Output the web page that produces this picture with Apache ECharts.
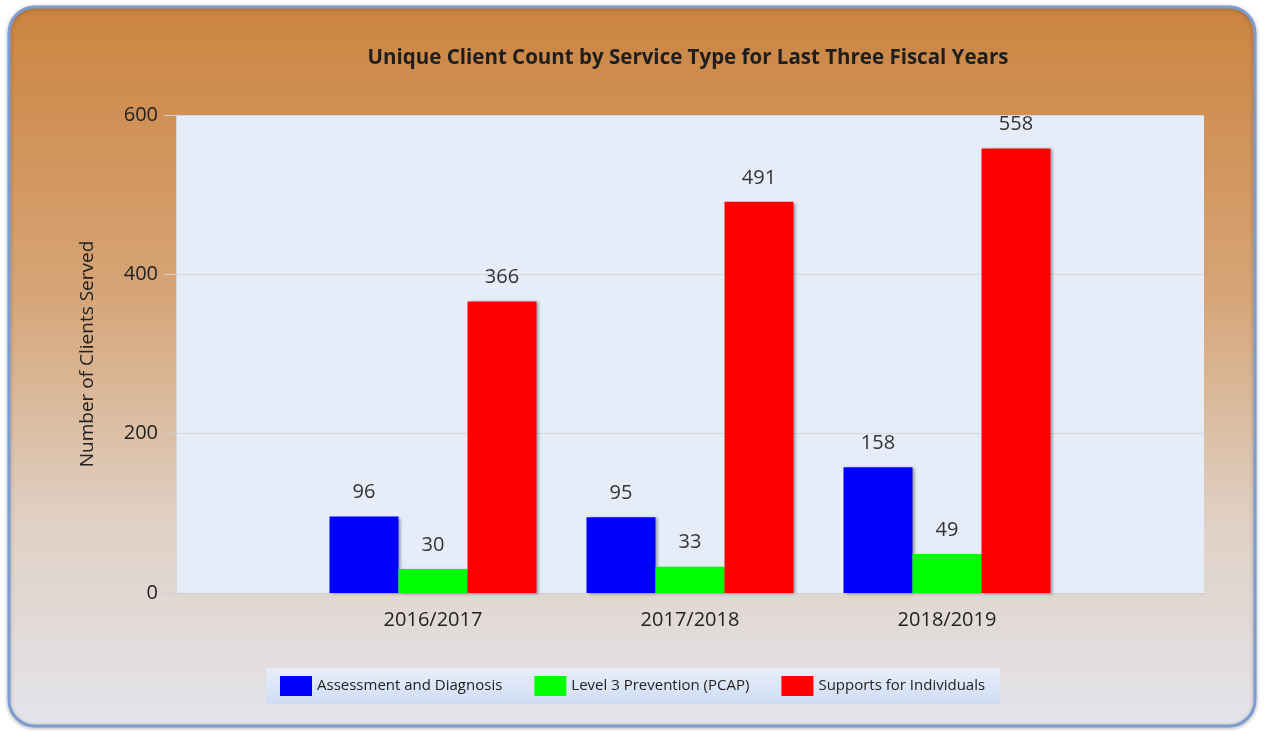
<!DOCTYPE html>
<html>
<head>
<meta charset="utf-8">
<script src="https://cdn.jsdelivr.net/npm/echarts@6/dist/echarts.min.js"></script>
<style>
  html, body { margin: 0; padding: 0; background: #ffffff; }
  #chart { width: 1266px; height: 731px; }
</style>
</head>
<body>
<div id="chart"></div>
<script>
// empty slots at both ends so the years sit where the original puts them
const years = ['', '2016/2017', '2017/2018', '2018/2019', '']
const seriesNames = ['Assessment and Diagnosis', 'Level 3 Prevention (PCAP)', 'Supports for Individuals']
const assessment = ['-', 96, 95, 158, '-']
const prevention = ['-', 30, 33, 49, '-']
const supports = ['-', 366, 491, 558, '-']
const yTicks = { min: 0, max: 600, interval: 200 }

const font = '"Open Sans", sans-serif'

const myChart = echarts.init(document.getElementById('chart'))

function barSeries (name, data, color) {
  return {
    name: name,
    type: 'bar',
    data: data,
    barWidth: 69,
    barGap: '0%',
    itemStyle: {
      color: color,
      shadowColor: 'rgba(0,0,0,0.35)',
      shadowBlur: 3,
      shadowOffsetX: 2,
      shadowOffsetY: 1
    },
    label: {
      show: true,
      position: 'top',
      distance: 14,
      color: '#333',
      fontSize: 20,
      fontFamily: font
    }
  }
}

const options = {
  animation: false,
  graphic: [
    {
      type: 'rect',
      z: -10,
      shape: { x: 9, y: 7, width: 1246, height: 719, r: 26 },
      style: {
        fill: new echarts.graphic.LinearGradient(0, 0, 0, 1, [
          { offset: 0, color: '#cc8440' },
          { offset: 0.4, color: '#d6a577' },
          { offset: 0.72, color: '#e0d1c5' },
          { offset: 1, color: '#e4e4ec' }
        ]),
        stroke: '#7d9dd2',
        lineWidth: 3,
        shadowColor: 'rgba(0,0,0,0.25)',
        shadowBlur: 4,
        shadowOffsetY: 1
      }
    }
  ],
  title: {
    text: 'Unique Client Count by Service Type for Last Three Fiscal Years',
    left: 683,
    top: 43,
    textAlign: 'center',
    textStyle: {
      fontFamily: font,
      fontSize: 20.5,
      fontWeight: 'bold',
      color: '#1e1e1e'
    }
  },
  grid: {
    left: 176,
    right: 62,
    top: 115,
    bottom: 138,
    show: true,
    backgroundColor: '#e6edf9',
    borderWidth: 0
  },
  legend: {
    data: seriesNames,
    left: 266,
    top: 668,
    padding: [8, 15, 8, 14],
    itemWidth: 32,
    itemHeight: 20,
    itemGap: 32,
    icon: 'rect',
    backgroundColor: new echarts.graphic.LinearGradient(0, 0, 0, 1, [
      { offset: 0, color: '#e9effa' },
      { offset: 1, color: '#cfdcf2' }
    ]),
    textStyle: {
      fontFamily: font,
      fontSize: 15,
      color: '#222'
    }
  },
  xAxis: {
    type: 'category',
    data: years,
    boundaryGap: false,
    axisLine: { lineStyle: { color: '#cfcfcf' } },
    axisTick: { show: false },
    axisLabel: {
      margin: 17,
      fontSize: 20,
      fontFamily: font,
      color: '#222'
    },
    splitLine: { show: false }
  },
  yAxis: {
    type: 'value',
    min: yTicks.min,
    max: yTicks.max,
    interval: yTicks.interval,
    name: 'Number of Clients Served',
    nameLocation: 'middle',
    nameGap: 79,
    nameTextStyle: {
      fontFamily: font,
      fontSize: 19,
      color: '#222'
    },
    axisLine: { show: true, lineStyle: { color: '#d4d4d4' } },
    axisTick: { show: true, length: 12, lineStyle: { color: '#d0d0d0' } },
    axisLabel: {
      margin: 18,
      fontSize: 20,
      fontFamily: font,
      color: '#222'
    },
    splitLine: { lineStyle: { color: '#d6d8dc' } }
  },
  series: [
    barSeries(seriesNames[0], assessment, '#0000ff'),
    barSeries(seriesNames[1], prevention, '#00ff00'),
    barSeries(seriesNames[2], supports, '#ff0000')
  ]
}

myChart.setOption(options)
</script>
</body>
</html>
